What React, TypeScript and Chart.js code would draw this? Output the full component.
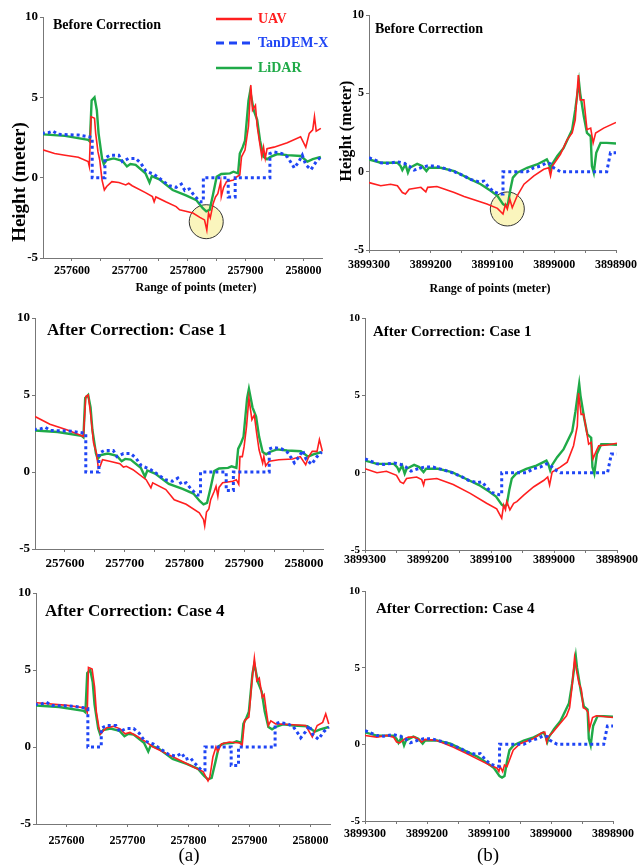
import React, { useEffect, useRef } from 'react';
import { Chart, registerables } from 'chart.js';
Chart.register(...registerables);

const W = 638;
const H = 865;
const FONT = "'Liberation Serif', 'Times New Roman', serif";
const RED = '#ff1f1f';
const BLUE = '#1f45f5';
const GREEN = '#1faa48';
const AXIS = '#777777';

// ---------- (a) easting profile ----------
const A_TDX_X = [257548, 257559, 257567, 257576, 257611, 257628, 257635, 257635, 257657, 257657, 257661, 257666, 257681, 257687, 257698, 257710, 257719, 257728, 257742, 257757, 257768, 257780, 257789, 257795, 257803, 257809, 257821, 257827, 257827, 257870, 257870, 257882, 257882, 257942, 257942, 257949, 257963, 257972, 257981, 257984, 257992, 257998, 258004, 258013, 258022, 258030];
const A_TDX_Y = [2.76, 2.8, 2.9, 2.7, 2.65, 2.55, 2.5, 0, 0, 1.2, 1.3, 1.4, 1.4, 1.0, 1.2, 1.2, 0.9, 0.4, 0.2, -0.2, -0.5, -0.6, -0.4, -0.8, -0.7, -1.0, -1.5, -1.5, 0, 0, -1.2, -1.2, 0, 0, 1.5, 1.6, 1.5, 1.3, 0.8, 0.6, 1.0, 1.4, 0.8, 0.5, 1.0, 1.3];

const A_LID_X = [257548, 257588, 257628, 257631, 257634, 257639, 257643, 257646, 257652, 257655, 257660, 257672, 257687, 257695, 257701, 257710, 257727, 257734, 257738, 257751, 257774, 257797, 257815, 257826, 257832, 257838, 257844, 257850, 257858, 257873, 257879, 257887, 257890, 257895, 257899, 257905, 257908, 257914, 257920, 257925, 257931, 257937, 257943, 257955, 257972, 257995, 258007, 258016, 258030];
const A_LID_Y = [2.7, 2.6, 2.35, 2.25, 4.8, 5.0, 4.2, 2.76, 1.2, 0.85, 1.1, 1.2, 1.05, 0.7, 0.85, 0.8, 0.27, -0.3, 0.1, -0.1, -0.77, -1.1, -1.4, -1.9, -2.1, -2.0, -1.0, 0.06, 0.23, 0.27, 0.37, 0.27, 1.5, 1.9, 2.3, 4.8, 5.4, 4.2, 3.6, 2.3, 1.3, 1.15, 1.3, 1.47, 1.4, 1.35, 1.0, 1.15, 1.3];

const A_UAV0_X = [257548, 257570, 257588, 257611, 257628, 257630, 257633, 257639, 257641, 257645, 257648, 257652, 257656, 257660, 257669, 257681, 257693, 257698, 257704, 257727, 257739, 257742, 257745, 257762, 257780, 257786, 257809, 257821, 257829, 257833, 257836, 257839, 257844, 257848, 257852, 257857, 257858, 257862, 257867, 257879, 257885, 257890, 257893, 257899, 257905, 257909, 257912, 257917, 257920, 257928, 257931, 257934, 257937, 257949, 257972, 257995, 258004, 258010, 258016, 258019, 258022, 258030];
const A_UAV0_Y = [1.75, 1.5, 1.4, 1.27, 1.0, 0.7, 3.8, 3.7, 2.76, 1.6, 1.1, -0.15, -0.77, -0.55, -0.25, -0.3, -0.45, -0.35, -0.5, -0.93, -1.18, -1.5, -1.2, -1.5, -1.8, -2.0, -2.2, -2.47, -2.63, -3.26, -2.2, -2.5, -1.6, -1.2, -1.0, -0.25, -1.18, -0.6, -0.25, -0.15, 0.06, 0.17, 1.3, 1.72, 3.2, 5.77, 4.2, 4.5, 3.2, 1.3, 1.9, 1.2, 1.8, 1.9, 2.18, 2.55, 1.9, 2.76, 2.97, 3.8, 2.9, 3.07];

const A_UAV1_X = [257550, 257575, 257603, 257625, 257631, 257635, 257639, 257643, 257648, 257653, 257656, 257659, 257663, 257675, 257692, 257698, 257703, 257714, 257736, 257744, 257747, 257769, 257783, 257803, 257825, 257832, 257834, 257837, 257841, 257844, 257850, 257853, 257856, 257858, 257864, 257881, 257887, 257891, 257893, 257897, 257900, 257904, 257908, 257913, 257917, 257921, 257925, 257931, 257933, 257936, 257942, 257958, 257981, 257994, 258003, 258008, 258014, 258022, 258026, 258031];
const A_UAV1_Y = [3.6, 3.1, 2.74, 2.4, 2.3, 4.9, 5.0, 3.8, 1.9, 1.2, 0.26, 0.37, 0.8, 0.7, 0.54, 0.32, 0.37, 0.15, -0.5, -1.03, -0.7, -1.14, -1.8, -2.1, -2.65, -3.08, -3.5, -2.6, -2.4, -1.8, -1.25, -0.93, -1.57, -1.0, -0.7, -0.6, -0.5, -0.8, 1.0, 1.0, 1.66, 2.95, 4.8, 3.4, 3.7, 2.5, 1.44, 0.58, 1.0, 0.4, 0.7, 0.8, 0.84, 1.0, 0.47, 1.0, 1.34, 1.34, 2.1, 1.34];

const A_UAV4_X = [257551, 257601, 257631, 257634, 257636, 257642, 257646, 257649, 257653, 257656, 257661, 257666, 257677, 257688, 257696, 257704, 257715, 257731, 257742, 257764, 257786, 257808, 257824, 257832, 257835, 257840, 257845, 257848, 257854, 257867, 257884, 257888, 257892, 257899, 257904, 257908, 257912, 257916, 257921, 257924, 257927, 257931, 257935, 257943, 257965, 257992, 258003, 258011, 258020, 258025, 258030];
const A_UAV4_Y = [2.87, 2.7, 2.54, 2.26, 5.17, 5.06, 3.9, 2.26, 1.3, 0.86, 1.08, 1.25, 1.34, 1.18, 0.86, 0.95, 0.71, 0.32, 0, -0.43, -0.86, -1.3, -1.6, -2.2, -1.95, -0.65, 0, -0.3, 0.2, 0.32, 0.26, 0.1, 1.72, 1.94, 4.3, 5.77, 4.3, 4.48, 3.23, 3.4, 2.5, 1.4, 1.7, 1.5, 1.46, 1.4, 0.65, 1.4, 1.6, 2.15, 1.5];

const A_TICKS = [257600, 257650, 257700, 257750, 257800, 257850, 257900, 257950, 258000];
const A_RANGE = [257550, 258032];
const A_CIRCLE = [257832, -2.74];

// ---------- (b) northing profile ----------
const B_TDX_X = [3899300, 3899289, 3899281, 3899270, 3899254, 3899243, 3899235, 3899227, 3899216, 3899206, 3899192, 3899176, 3899162, 3899146, 3899136, 3899122, 3899114, 3899106, 3899098, 3899087, 3899083, 3899083, 3899044, 3899033, 3899022, 3899012, 3899006, 3899001, 3898990, 3898915, 3898909, 3898900];
const B_TDX_Y = [0.89, 0.72, 0.57, 0.53, 0.63, 0.53, 0.36, 0.1, 0.25, 0.36, 0.36, 0.19, 0, -0.27, -0.49, -0.65, -0.6, -1.0, -1.29, -1.43, -1.43, 0, 0, 0.25, 0.36, 0.57, 0.5, 0.25, 0, 0, 1.2, 1.2];

const B_LID_X = [3899300, 3899281, 3899254, 3899249, 3899246, 3899241, 3899237, 3899234, 3899222, 3899214, 3899207, 3899203, 3899184, 3899162, 3899141, 3899119, 3899103, 3899092, 3899083, 3899079, 3899075, 3899071, 3899067, 3899060, 3899044, 3899028, 3899012, 3899009, 3899006, 3899003, 3898995, 3898985, 3898976, 3898971, 3898966, 3898960, 3898958, 3898952, 3898947, 3898941, 3898939, 3898936, 3898932, 3898925, 3898915, 3898900];
const B_LID_Y = [0.78, 0.57, 0.57, 0.36, 0.1, 0.46, -0.06, 0.25, 0.5, 0.36, 0.04, 0.25, 0.25, 0.04, -0.38, -0.8, -1.22, -1.54, -2.07, -2.17, -2.07, -1.12, -0.38, -0.06, 0.25, 0.46, 0.78, 0.55, 0.15, 0.5, 1.0, 1.5, 2.26, 2.68, 3.94, 5.74, 5.0, 3.5, 2.47, 2.26, 0.36, -0.06, 1.2, 1.84, 1.84, 1.8];

const B_UAV0_X = [3899300, 3899281, 3899265, 3899254, 3899246, 3899241, 3899235, 3899216, 3899208, 3899205, 3899190, 3899162, 3899146, 3899125, 3899109, 3899092, 3899083, 3899079, 3899076, 3899072, 3899068, 3899060, 3899049, 3899033, 3899017, 3899009, 3899006, 3899003, 3898990, 3898979, 3898971, 3898966, 3898961, 3898958, 3898952, 3898947, 3898941, 3898937, 3898933, 3898920, 3898900];
const B_UAV0_Y = [-0.7, -0.9, -0.8, -0.9, -1.33, -1.43, -1.12, -1.0, -1.29, -1.0, -0.95, -1.33, -1.58, -1.86, -2.07, -2.34, -2.7, -2.1, -2.38, -1.75, -2.3, -1.54, -0.8, -0.27, 0.15, 0.25, -0.27, 0.36, 1.1, 2.05, 2.47, 3.3, 6.16, 4.58, 4.58, 2.68, 2.78, 1.84, 2.47, 2.78, 3.14];

const B_UAV1_X = [3899300, 3899281, 3899266, 3899250, 3899244, 3899239, 3899234, 3899218, 3899210, 3899207, 3899205, 3899186, 3899160, 3899133, 3899107, 3899091, 3899083, 3899080, 3899077, 3899075, 3899070, 3899064, 3899059, 3899048, 3899032, 3899016, 3899010, 3899007, 3899003, 3898990, 3898979, 3898969, 3898963, 3898961, 3898957, 3898953, 3898948, 3898945, 3898941, 3898938, 3898934, 3898929, 3898916, 3898900];
const B_UAV1_Y = [0.26, 0, 0.09, -0.17, -0.6, -0.7, -0.38, -0.28, -0.45, -0.8, -0.45, -0.38, -0.77, -1.34, -1.98, -2.34, -2.94, -2.1, -2.4, -1.87, -2.4, -1.98, -1.87, -1.45, -0.91, -0.49, -0.28, -0.8, 0.04, 0.36, 0.68, 1.74, 3.0, 5.15, 3.77, 3.77, 2.6, 1.85, 1.96, 0.9, 1.3, 1.74, 1.79, 1.9];

const B_UAV4_X = [3899300, 3899281, 3899265, 3899254, 3899249, 3899244, 3899236, 3899230, 3899220, 3899211, 3899209, 3899203, 3899185, 3899158, 3899136, 3899115, 3899099, 3899087, 3899084, 3899082, 3899078, 3899075, 3899071, 3899066, 3899061, 3899050, 3899029, 3899015, 3899010, 3899007, 3899005, 3898997, 3898986, 3898975, 3898970, 3898966, 3898962, 3898959, 3898955, 3898951, 3898948, 3898944, 3898940, 3898938, 3898933, 3898927, 3898900];
const B_UAV4_Y = [0.58, 0.47, 0.58, 0.47, 0.15, 0.1, 0.36, 0.47, 0.47, 0.26, 0.15, 0.32, 0.26, -0.17, -0.6, -1.03, -1.35, -1.56, -1.77, -1.45, -1.77, -1.35, -1.45, -0.92, -0.38, 0.04, 0.36, 0.75, 0.79, 0.15, 0.47, 0.79, 1.32, 1.86, 2.39, 3.78, 5.66, 4.85, 4.0, 3.57, 2.39, 2.3, 2.07, 1.0, 1.75, 1.86, 1.75];

const B_TICKS = [3899300, 3899250, 3899200, 3899150, 3899100, 3899050, 3899000, 3898950, 3898900];
const B_RANGE = [3898900, 3899300];
const B_CIRCLE = [3899076, -2.38];

const Y_TICKS = [-5, 0, 5, 10];
const SERIES_NAMES = ['UAV', 'TanDEM-X', 'LiDAR'];

type Txt = { text: string; x: number; y: number; size: number; color?: string; bold?: boolean; rot?: boolean; align?: CanvasTextAlign };
type Panel = {
  area: [number, number, number, number];
  range: number[];
  reverse: boolean;
  xTicks: number[];
  tdx: [number[], number[]];
  lid: [number[], number[]];
  uav: [number[], number[]];
  xFont: number;
  xPad: number;
  yFont: number;
  texts: Txt[];
  circle?: number[];
  legend?: boolean;
};

const PANELS: Panel[] = [
  {
    area: [43, 17, 322, 258], range: A_RANGE, reverse: false, xTicks: A_TICKS,
    tdx: [A_TDX_X, A_TDX_Y], lid: [A_LID_X, A_LID_Y], uav: [A_UAV0_X, A_UAV0_Y],
    xFont: 12, xPad: 3, yFont: 13, circle: A_CIRCLE, legend: true,
    texts: [
      { text: 'Before Correction', x: 53, y: 25, size: 14, bold: true, align: 'left' },
      { text: 'Height (meter)', x: 20, y: 182, size: 19, bold: true, rot: true },
      { text: 'Range of points (meter)', x: 196, y: 288, size: 12, bold: true },
    ],
  },
  {
    area: [369, 15, 616, 250], range: B_RANGE, reverse: true, xTicks: B_TICKS,
    tdx: [B_TDX_X, B_TDX_Y], lid: [B_LID_X, B_LID_Y], uav: [B_UAV0_X, B_UAV0_Y],
    xFont: 12, xPad: 5, yFont: 12, circle: B_CIRCLE,
    texts: [
      { text: 'Before Correction', x: 375, y: 29, size: 14, bold: true, align: 'left' },
      { text: 'Height (meter)', x: 347, y: 131, size: 16, bold: true, rot: true },
      { text: 'Range of points (meter)', x: 490, y: 289, size: 12, bold: true },
    ],
  },
  {
    area: [35, 318, 323, 549], range: A_RANGE, reverse: false, xTicks: A_TICKS,
    tdx: [A_TDX_X, A_TDX_Y], lid: [A_LID_X, A_LID_Y], uav: [A_UAV1_X, A_UAV1_Y],
    xFont: 13, xPad: 4, yFont: 13,
    texts: [{ text: 'After Correction: Case 1', x: 47, y: 331, size: 17, bold: true, align: 'left' }],
  },
  {
    area: [365, 318, 617, 550], range: B_RANGE, reverse: true, xTicks: B_TICKS,
    tdx: [B_TDX_X, B_TDX_Y], lid: [B_LID_X, B_LID_Y], uav: [B_UAV1_X, B_UAV1_Y],
    xFont: 12, xPad: 0, yFont: 11,
    texts: [{ text: 'After Correction: Case 1', x: 373, y: 332, size: 15, bold: true, align: 'left' }],
  },
  {
    area: [36, 593, 330, 824], range: A_RANGE, reverse: false, xTicks: A_TICKS,
    tdx: [A_TDX_X, A_TDX_Y], lid: [A_LID_X, A_LID_Y], uav: [A_UAV4_X, A_UAV4_Y],
    xFont: 12, xPad: 7, yFont: 13,
    texts: [
      { text: 'After Correction: Case 4', x: 45, y: 612, size: 17, bold: true, align: 'left' },
      { text: '(a)', x: 189, y: 856, size: 19 },
    ],
  },
  {
    area: [365, 591, 613, 821], range: B_RANGE, reverse: true, xTicks: B_TICKS,
    tdx: [B_TDX_X, B_TDX_Y], lid: [B_LID_X, B_LID_Y], uav: [B_UAV4_X, B_UAV4_Y],
    xFont: 12, xPad: 3, yFont: 11,
    texts: [
      { text: 'After Correction: Case 4', x: 376, y: 609, size: 15, bold: true, align: 'left' },
      { text: '(b)', x: 488, y: 856, size: 19 },
    ],
  },
];

const pts = (xs: number[], ys: number[]) => xs.map((x, i) => ({ x, y: ys[i] }));

function makeChart(canvas: HTMLCanvasElement, p: Panel) {
  const [l, t, r, b] = p.area;
  const YW = 30;
  const XH = 24;
  const overlay = {
    id: 'overlay',
    beforeDatasetsDraw(chart: any) {
      if (!p.circle) return;
      const ctx = chart.ctx;
      const cx = chart.scales.x.getPixelForValue(p.circle[0]);
      const cy = chart.scales.y.getPixelForValue(p.circle[1]);
      ctx.save();
      ctx.beginPath();
      ctx.arc(cx, cy, 17, 0, Math.PI * 2);
      ctx.fillStyle = 'rgba(250,244,185,0.95)';
      ctx.fill();
      ctx.lineWidth = 1;
      ctx.strokeStyle = '#333';
      ctx.stroke();
      ctx.restore();
    },
    afterDraw(chart: any) {
      const ctx = chart.ctx;
      ctx.save();
      ctx.textBaseline = 'middle';
      for (const tx of p.texts) {
        ctx.font = `${tx.bold ? 'bold ' : ''}${tx.size}px ${FONT}`;
        ctx.fillStyle = tx.color || '#000';
        ctx.textAlign = tx.align || 'center';
        if (tx.rot) {
          ctx.save();
          ctx.translate(tx.x, tx.y);
          ctx.rotate(-Math.PI / 2);
          ctx.fillText(tx.text, 0, 0);
          ctx.restore();
        } else {
          ctx.fillText(tx.text, tx.x, tx.y);
        }
      }
      if (p.legend) {
        const rows = [
          { name: SERIES_NAMES[0], color: RED, dash: [] as number[], y: 19, w: 2.5 },
          { name: SERIES_NAMES[1], color: BLUE, dash: [8, 5], y: 43, w: 3 },
          { name: SERIES_NAMES[2], color: GREEN, dash: [] as number[], y: 68, w: 2.5 },
        ];
        for (const row of rows) {
          ctx.beginPath();
          ctx.setLineDash(row.dash);
          ctx.lineWidth = row.w;
          ctx.strokeStyle = row.color;
          ctx.moveTo(216, row.y);
          ctx.lineTo(252, row.y);
          ctx.stroke();
          ctx.setLineDash([]);
          ctx.font = `bold 14px ${FONT}`;
          ctx.fillStyle = row.color;
          ctx.textAlign = 'left';
          ctx.fillText(row.name, 258, row.y);
        }
      }
      ctx.restore();
    },
  };

  return new Chart(canvas, {
    type: 'line',
    data: {
      datasets: [
        { label: SERIES_NAMES[1], data: pts(...p.tdx), borderColor: BLUE, borderWidth: 3, borderDash: [3, 3], order: 0 },
        { label: SERIES_NAMES[0], data: pts(...p.uav), borderColor: RED, borderWidth: 1.6, order: 1 },
        { label: SERIES_NAMES[2], data: pts(...p.lid), borderColor: GREEN, borderWidth: 2.4, order: 2 },
      ],
    },
    options: {
      responsive: false,
      animation: false,
      events: [],
      layout: { padding: { left: l - YW, top: t, right: W - r, bottom: H - b - XH } },
      elements: { point: { radius: 0 }, line: { tension: 0, fill: false, borderCapStyle: 'butt' } },
      plugins: { legend: { display: false }, tooltip: { enabled: false }, title: { display: false } },
      scales: {
        x: {
          type: 'linear',
          min: p.range[0],
          max: p.range[1],
          reverse: p.reverse,
          afterBuildTicks: (s: any) => { s.ticks = p.xTicks.map((v) => ({ value: v })); },
          afterFit: (s: any) => { s.height = XH; s.paddingLeft = 0; s.paddingRight = 0; },
          ticks: {
            autoSkip: false,
            maxRotation: 0,
            minRotation: 0,
            padding: p.xPad,
            color: '#000',
            font: { family: FONT, size: p.xFont, weight: 'bold' },
            callback: (v: any) => (Math.round(Number(v)) % 100 === 0 ? String(v) : ''),
          },
          grid: { drawOnChartArea: false, drawTicks: true, tickLength: 3, color: AXIS },
          border: { display: true, color: AXIS, width: 1 },
        },
        y: {
          type: 'linear',
          min: -5,
          max: 10,
          afterBuildTicks: (s: any) => { s.ticks = Y_TICKS.map((v) => ({ value: v })); },
          afterFit: (s: any) => { s.width = YW; s.paddingTop = 0; s.paddingBottom = 0; },
          ticks: {
            padding: 2,
            color: '#000',
            font: { family: FONT, size: p.yFont, weight: 'bold' },
            callback: (v: any) => String(v),
          },
          grid: { drawOnChartArea: false, drawTicks: true, tickLength: 3, color: AXIS },
          border: { display: true, color: AXIS, width: 1 },
        },
      },
    } as any,
    plugins: [overlay],
  } as any);
}

function PanelCanvas({ p }: { p: Panel }) {
  const ref = useRef<HTMLCanvasElement | null>(null);
  useEffect(() => {
    if (!ref.current) return;
    const chart = makeChart(ref.current, p);
    return () => chart.destroy();
  }, [p]);
  return (
    <canvas
      ref={ref}
      width={W}
      height={H}
      style={{ position: 'absolute', left: 0, top: 0, width: W, height: H }}
    />
  );
}

export default function App() {
  return (
    <div style={{ position: 'absolute', left: 0, top: 0, width: W, height: H, background: '#fff', overflow: 'hidden' }}>
      {PANELS.map((p, i) => (
        <PanelCanvas key={i} p={p} />
      ))}
    </div>
  );
}
